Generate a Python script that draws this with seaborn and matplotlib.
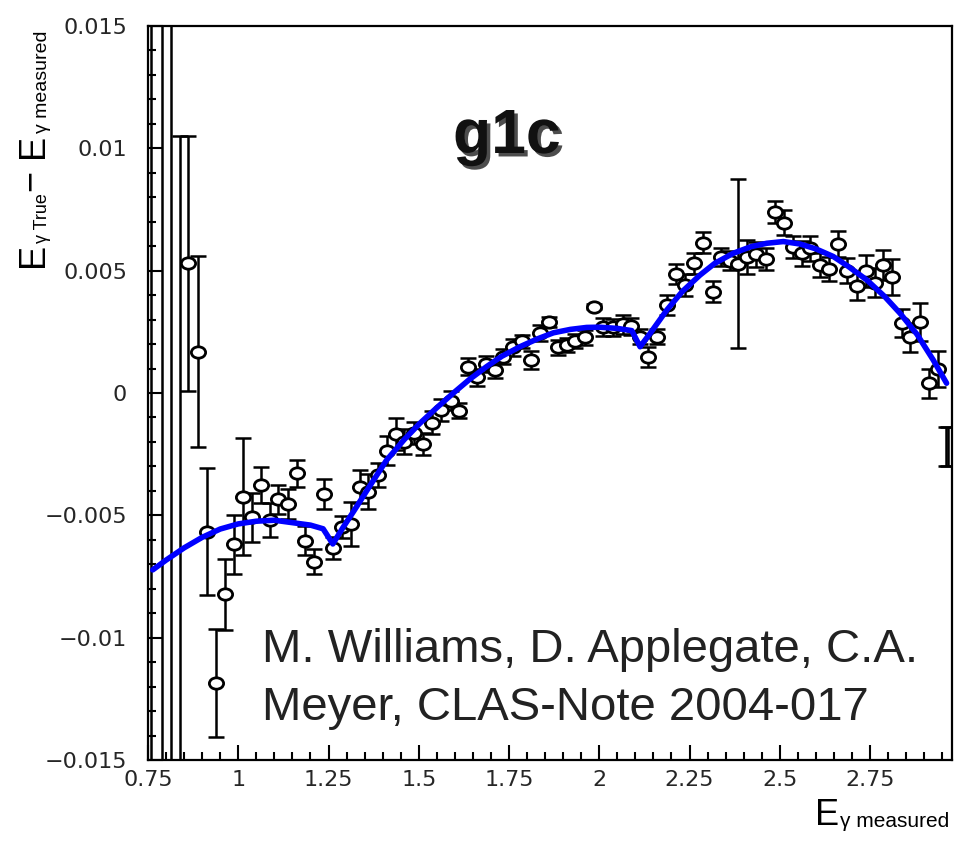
import numpy as np
import matplotlib
matplotlib.use("Agg")
import matplotlib.pyplot as plt
import matplotlib.patheffects as pe
from matplotlib.path import Path
from matplotlib.ticker import MultipleLocator
import seaborn as sns

# measured points: E_gamma measured, E_true - E_measured, error
e_meas = [0.861, 0.888, 0.9125, 0.938, 0.963, 0.989, 1.012, 1.038, 1.063, 1.088,
          1.111, 1.137, 1.162, 1.185, 1.210, 1.237, 1.262, 1.288, 1.312, 1.336,
          1.360, 1.388, 1.411, 1.437, 1.459, 1.487, 1.511, 1.538, 1.562, 1.588,
          1.612, 1.637, 1.660, 1.685, 1.710, 1.734, 1.760, 1.786, 1.811, 1.836,
          1.862, 1.887, 1.910, 1.933, 1.960, 1.986, 2.011, 2.038, 2.065, 2.088,
          2.113, 2.136, 2.161, 2.187, 2.213, 2.238, 2.262, 2.288, 2.314, 2.336,
          2.362, 2.385, 2.410, 2.434, 2.462, 2.487, 2.512, 2.536, 2.561, 2.584,
          2.610, 2.637, 2.662, 2.687, 2.713, 2.738, 2.764, 2.787, 2.812, 2.838,
          2.861, 2.887, 2.912, 2.937]
diff = [0.0053, 0.00168, -0.00567, -0.01184, -0.00822, -0.00618, -0.00424, -0.00508, -0.00376, -0.00519,
        -0.00435, -0.00454, -0.00328, -0.00604, -0.00689, -0.00413, -0.00633, -0.00546, -0.00535, -0.00383,
        -0.00403, -0.00335, -0.00236, -0.00169, -0.00199, -0.00165, -0.0021, -0.00121, -0.00069, -0.00031,
        -0.00072, 0.00108, 0.00064, 0.00118, 0.00094, 0.00148, 0.00187, 0.00212, 0.00135, 0.00246,
        0.00289, 0.00187, 0.00196, 0.00212, 0.00228, 0.00352, 0.0027, 0.00268, 0.0028, 0.00273,
        0.0023, 0.00148, 0.0023, 0.0036, 0.00486, 0.00441, 0.0053, 0.00614, 0.00414, 0.00555,
        0.00541, 0.00528, 0.00555, 0.00567, 0.00546, 0.00741, 0.00696, 0.00598, 0.00571, 0.00591,
        0.00523, 0.00506, 0.00609, 0.005, 0.00437, 0.005, 0.00451, 0.00523, 0.00473, 0.00285,
        0.00228, 0.00289, 0.0004, 0.00098]
err = [0.0052, 0.0039, 0.0026, 0.0022, 0.00145, 0.0012, 0.0024, 0.001, 0.00074, 0.0007,
       0.0006, 0.0006, 0.00055, 0.0006, 0.0005, 0.0006, 0.00045, 0.00045, 0.0009, 0.00068,
       0.0007, 0.00048, 0.0006, 0.00065, 0.0005, 0.00045, 0.00045, 0.00048, 0.00045, 0.0004,
       0.00032, 0.00034, 0.00034, 0.00032, 0.00034, 0.0003, 0.00034, 0.00027, 0.00037, 0.00032,
       0.0002, 0.0003, 0.0003, 0.0003, 0.0003, 0.0001, 0.00035, 0.00035, 0.00037, 0.00035,
       0.0003, 0.0004, 0.0003, 0.0004, 0.0004, 0.00045, 0.00042, 0.00043, 0.00044, 0.00037,
       0.00039, 0.00345, 0.0007, 0.0005, 0.00045, 0.00045, 0.0005, 0.00045, 0.0005, 0.0005,
       0.0005, 0.0005, 0.00055, 0.0005, 0.00058, 0.00065, 0.0006, 0.0006, 0.00074, 0.00058,
       0.0006, 0.00077, 0.0006, 0.00074]

# points whose centre is outside the frame, only the bar shows
edge_x = [0.758, 0.789, 0.814, 0.839, 2.9595, 2.9665]
edge_y = [-0.025, -0.025, -0.025, -0.0205, -0.0022, -0.0022]
edge_err = [0.05, 0.05, 0.05, 0.031, 0.0008, 0.0008]

# fit curve
fit_x = [0.763, 0.80, 0.85, 0.90, 0.95, 1.0, 1.05, 1.1, 1.15, 1.2, 1.235, 1.262,
         1.29, 1.319, 1.36, 1.411, 1.46, 1.503, 1.55, 1.596, 1.64, 1.688, 1.73, 1.78,
         1.83, 1.873, 1.92, 1.965, 2.0, 2.05, 2.09, 2.113, 2.141, 2.187, 2.23, 2.279,
         2.32, 2.371, 2.42, 2.464, 2.51, 2.556, 2.6, 2.648, 2.69, 2.741, 2.79, 2.833,
         2.88, 2.925, 2.962]
fit_y = [-0.00723, -0.00683, -0.00633, -0.0059, -0.00556, -0.00535, -0.00524, -0.0052, -0.0053, -0.0054, -0.00555, -0.00617,
         -0.0055, -0.00485, -0.0039, -0.00274, -0.0019, -0.00124, -0.0006, 0.0, 0.00055, 0.00108, 0.0015, 0.00189,
         0.00222, 0.00246, 0.0026, 0.00268, 0.00269, 0.00264, 0.00255, 0.00189, 0.00244, 0.00339, 0.00415, 0.00482,
         0.0053, 0.00571, 0.00598, 0.00612, 0.00619, 0.00609, 0.00589, 0.00558, 0.00517, 0.00462, 0.00395, 0.00326,
         0.0024, 0.00135, 0.0004]

xticks = [0.75, 1, 1.25, 1.5, 1.75, 2, 2.25, 2.5, 2.75]
xtick_labels = ["0.75", "1", "1.25", "1.5", "1.75", "2", "2.25", "2.5", "2.75"]
yticks = [-0.015, -0.01, -0.005, 0, 0.005, 0.01, 0.015]
ytick_labels = ["\u22120.015", "\u22120.01", "\u22120.005", "0", "0.005", "0.01", "0.015"]

sns.set_style("ticks")
plt.rcParams["font.family"] = ["DejaVu Sans"]
plt.rcParams["axes.edgecolor"] = "black"

W, H = 963, 843
fig = plt.figure(figsize=(W / 100, H / 100), dpi=100)
ax = fig.add_axes([148 / W, 1 - 760 / H, 804 / W, 734 / H])

ax.errorbar(edge_x, edge_y, yerr=edge_err, fmt="none", ecolor="black",
            elinewidth=1.8, capsize=5.8, capthick=1.8, zorder=2)
ax.errorbar(e_meas, diff, yerr=err, fmt="none", ecolor="black",
            elinewidth=1.8, capsize=5.8, capthick=1.8, zorder=2)

# slightly flattened open circle like the ROOT marker
circ = Path.unit_circle()
ellipse = Path(circ.vertices * np.array([1.0, 0.8]), circ.codes)
sns.scatterplot(x=e_meas, y=diff, marker=ellipse, s=105, facecolor="white",
                edgecolor="black", linewidth=2.0, ax=ax, zorder=3)

sns.lineplot(x=fit_x, y=fit_y, sort=False, estimator=None, color="#0000ff",
             linewidth=4.0, ax=ax, zorder=4)

ax.set_xlim(0.75, 2.977)
ax.set_ylim(-0.015, 0.015)
ax.set_xticks(xticks, xtick_labels)
ax.set_yticks(yticks, ytick_labels)
ax.xaxis.set_minor_locator(MultipleLocator(0.05))
ax.yaxis.set_minor_locator(MultipleLocator(0.001))
ax.tick_params(which="both", direction="in", top=False, right=False,
               width=1.5, color="black")
ax.tick_params(which="major", length=11, labelsize=16)
ax.tick_params(which="minor", length=5.5)
ax.tick_params(axis="y", pad=15)
ax.tick_params(axis="x", pad=7)
for s in ax.spines.values():
    s.set_linewidth(1.6)
    s.set_color("black")
ax.set_xlabel("")
ax.set_ylabel("")


def put(txt, px, py, **kw):
    fig.text(px / W, 1 - py / H, txt, **kw)


lab = dict(family="Liberation Sans", color="black")
# y axis title, built from pieces
rot = dict(rotation=90, rotation_mode="anchor", ha="left", va="baseline")
put("E", 43, 267, fontsize=26, **rot, **lab)
put("\u03b3 True", 47, 243, fontsize=13, **rot, **lab)
put("\u2212", 41, 191, fontsize=26, **rot, **lab)
put("E", 43, 158, fontsize=26, **rot, **lab)
put("\u03b3 measured", 47, 133, fontsize=14, **rot, **lab)
# x axis title
put("E", 815, 825, fontsize=26, ha="left", va="baseline", **lab)
put("\u03b3 measured", 840, 827, fontsize=15, ha="left", va="baseline", **lab)

put("g1c", 453, 153, fontsize=45, fontweight="bold", family="Liberation Sans",
    color="#111111", ha="left", va="baseline",
    path_effects=[pe.SimplePatchShadow(offset=(2.5, -2.5), shadow_rgbFace="0.3", alpha=1.0),
                  pe.Normal()])

note = dict(fontsize=34, family="Liberation Sans", color="#222222", ha="left", va="baseline")
put("M. Williams, D. Applegate, C.A.", 262, 662, **note)
put("Meyer, CLAS-Note 2004-017", 262, 720, **note)

fig.savefig("out.png", dpi=100)
